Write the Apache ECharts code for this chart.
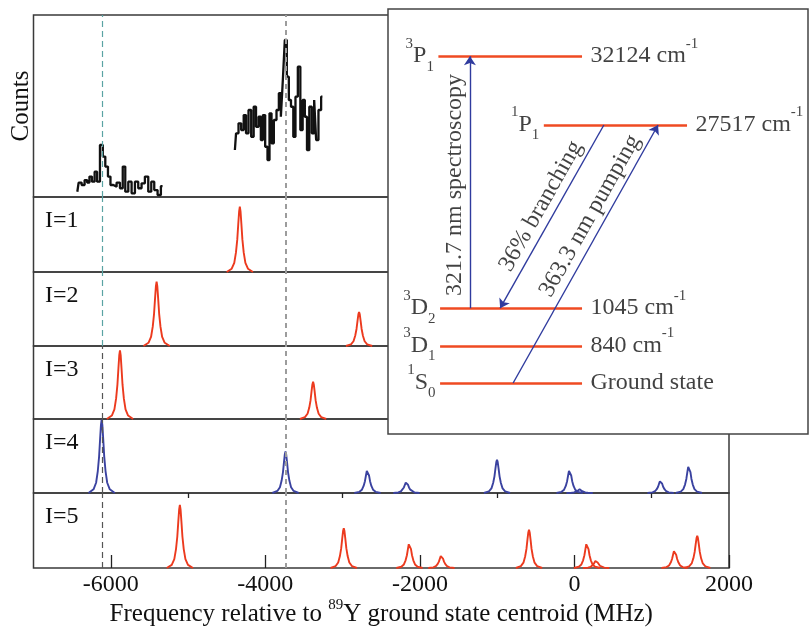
<!DOCTYPE html>
<html><head><meta charset="utf-8">
<script src="https://cdn.jsdelivr.net/npm/echarts@6/dist/echarts.min.js"></script>
<style>html,body{margin:0;padding:0;background:#fff}#c{width:811px;height:630px}</style>
</head><body><div id="c"></div>
<script>
const SERIF = '"Liberation Serif","Times New Roman",serif';

// ---------- data ----------
const xTickValues = [-6000, -4000, -2000, 0, 2000];
const xMinorTickValues = [-5000, -3000, -1000, 1000];
const refLines = [-6110, -3740];

// measured counts (top panel), relative units
const countsLeftX = [-6433,-6399,-6356,-6321,-6291,-6261,-6226,-6192,-6162,-6118,-6088,-6054,-6019,-5989,-5946,-5903,-5860,-5830,-5795,-5752,-5709,-5666,-5623,-5580,-5537,-5493,-5459,-5416,-5373,-5330];
const countsLeftY = [2.9,7.9,6.6,9.3,7.9,11.2,8.4,13.9,8.4,28.6,22.2,16.7,11.2,6.6,5.7,7.9,4.8,16.7,2.9,8.4,2.0,8.4,4.8,7.5,11.2,2.9,8.4,3.8,1.1,6.0];
const countsRightX = [-4394,-4364,-4330,-4295,-4265,-4235,-4200,-4166,-4136,-4105,-4071,-4045,-4019,-3985,-3959,-3933,-3907,-3873,-3838,-3812,-3786,-3761,-3735,-3709,-3683,-3653,-3623,-3597,-3562,-3532,-3502,-3476,-3446,-3416,-3381,-3355,-3330,-3295,-3261];
const countsRightY = [25.8,35.0,40.5,36.8,45.0,35.0,47.8,33.1,49.6,38.6,44.1,31.3,45.0,27.6,20.3,46.0,29.5,42.3,47.8,57.0,44.1,64.3,86.3,66.1,53.3,49.6,33.1,55.1,71.6,36.8,53.3,44.1,25.8,49.6,35.0,53.3,31.3,47.8,55.1];

// simulated spectra for each nuclear spin I (peak centre in MHz, relative height)
const panelLabels = ['I=1', 'I=2', 'I=3', 'I=4', 'I=5'];
const peaksI1 = [-4330];
const heightsI1 = [87];
const peaksI2 = [-5407, -2787];
const heightsI2 = [87, 46];
const peaksI3 = [-5881, -3382];
const heightsI3 = [94, 51];
const peaksI4 = [-6118, -3739, -2678, -2174, -1002, -62, 67, 1115, 1481];
const heightsI4 = [99, 56, 32, 15, 45, 32, 5, 17, 38];
const peaksI5 = [-5106, -2985, -2135, -1721, -588, 162, 280, 1296, 1589];
const heightsI5 = [84, 53, 34, 17, 51, 34, 10, 24, 43];
// line shape read from the plotted peaks (offset in MHz, fraction of peak height)
const peakOffsets = [-170, -105, -72, -50, -33, -20, -9, 0, 9, 20, 33, 50, 72, 105, 170];
const peakProfile = [0, 0.05, 0.14, 0.3, 0.5, 0.74, 0.93, 1, 0.93, 0.74, 0.5, 0.3, 0.14, 0.05, 0];

// inset: energy level diagram (schematic units 0-100)
const levelMult = ['3', '1', '3', '3', '1'];
const levelTerm = ['P', 'P', 'D', 'D', 'S'];
const levelJ = ['1', '1', '2', '1', '0'];
const levelEnergy = [32124, 27517, 1045, 840, 0];
const levelY = [88.9, 72.7, 29.6, 20.7, 12.0];
const levelX0 = [12.0, 37.1, 12.4, 12.4, 12.4];
const levelX1 = [46.2, 71.2, 46.2, 46.2, 46.2];
const arrowText = ['321.7 nm spectroscopy', '36% branching', '363.3 nm pumping'];
const arrowFromLevel = [2, 1, 4];
const arrowToLevel = [0, 2, 1];
const arrowFromX = [19.5, 51.4, 29.8];
const arrowToX = [19.5, 26.7, 64.3];
const arrowLabelX = [15.9, 36.4, 48.1];
const arrowLabelY = [58.6, 53.6, 51.3];
const arrowLabelRotate = [90, 60.5, 60.5];

// ---------- layout ----------
const LEFT = 33.5, WIDTH = 695.5;
const panelTop = [15, 197, 272, 346, 419, 493];
const panelHeight = [182, 75, 74, 73, 74, 75];
const INSET = {x: 388, y: 9, w: 420, h: 425};

const RED = '#ec3a1e', BLUE = '#3a42a0';
const panelPeaks = [peaksI1, peaksI2, peaksI3, peaksI4, peaksI5];
const panelHeights = [heightsI1, heightsI2, heightsI3, heightsI4, heightsI5];
const panelColors = [RED, RED, RED, BLUE, RED];

function peakData(pos, hts) {
  const out = [];
  pos.forEach((p, i) => {
    peakOffsets.forEach((o, k) => out.push([p + o, hts[i] * peakProfile[k]]));
    out.push(['-', '-']);
  });
  return out;
}
function refMarkLine(i) {
  const c1 = i <= 2 ? '#5aa3a3' : '#555';
  return {
    symbol: 'none', silent: true, label: {show: false}, animation: false,
    data: [
      {xAxis: refLines[0], lineStyle: {color: c1, type: [6, 4], width: 1.2}},
      {xAxis: refLines[1], lineStyle: {color: '#9c9c9c', type: [5, 4], width: 2}}
    ]
  };
}

const txt = {fontFamily: SERIF, color: '#111'};
const rich = {
  m: {...txt, fontSize: 24, lineHeight: 40},
  sp: {...txt, fontSize: 15, lineHeight: 15, verticalAlign: 'top'},
  sb: {...txt, fontSize: 15, lineHeight: 15, verticalAlign: 'bottom', padding: [0, 0, 2, 0]}
};

const grids = panelTop.map((t, i) => ({
  left: LEFT, top: t, width: WIDTH, height: panelHeight[i],
  show: true, borderColor: '#3a3a3a', borderWidth: 1.5, backgroundColor: 'rgba(0,0,0,0)'
}));
grids.push({left: INSET.x, top: INSET.y, width: INSET.w, height: INSET.h, show: false});

const xAxes = panelTop.map((t, i) => {
  const a = {gridIndex: i, type: 'value', min: -7000, max: 2000, show: i === 5,
    axisLine: {show: false}, splitLine: {show: false}};
  if (i === 5) {
    a.axisTick = {show: true, inside: true, length: 13, customValues: xTickValues,
      lineStyle: {color: '#222', width: 1.3}};
    a.axisLabel = {show: true, customValues: xTickValues, formatter: v => String(v),
      fontFamily: SERIF, fontSize: 24, color: '#111', margin: 5};
    a.name = '{n|Frequency relative to }{s|89}{n|Y ground state centroid (MHz)}';
    a.nameLocation = 'middle';
    a.nameGap = 29;
    a.nameTextStyle = {...txt, fontSize: 25, rich: {
      n: {...txt, fontSize: 25, lineHeight: 34},
      s: {...txt, fontSize: 15, lineHeight: 14, verticalAlign: 'top'}
    }};
  }
  return a;
});
xAxes.push({gridIndex: 5, type: 'value', min: -7000, max: 2000,
  axisLine: {show: false}, splitLine: {show: false}, axisLabel: {show: false},
  axisTick: {show: true, inside: true, length: 5, customValues: xMinorTickValues,
    lineStyle: {color: '#222', width: 1.3}}});
xAxes.push({gridIndex: 6, type: 'value', min: 0, max: 100, show: false});

const yAxes = panelTop.map((t, i) => ({
  gridIndex: i, type: 'value', min: 0, max: 100, show: i === 0,
  axisLine: {show: false}, axisTick: {show: false}, axisLabel: {show: false}, splitLine: {show: false},
  name: i === 0 ? 'Counts' : '', nameLocation: 'middle', nameGap: 0,
  nameTextStyle: {...txt, fontSize: 25}
}));
yAxes.push({gridIndex: 6, type: 'value', min: 0, max: 100, show: false});

const series = [];
const countsData = countsLeftX.map((x, i) => [x, countsLeftY[i]])
  .concat([['-', '-']])
  .concat(countsRightX.map((x, i) => [x, countsRightY[i]]));
series.push({type: 'line', xAxisIndex: 0, yAxisIndex: 0, data: countsData,
  step: 'middle', symbol: 'none', lineStyle: {color: '#111', width: 2.3}, markLine: refMarkLine(0)});
panelPeaks.forEach((pk, j) => {
  series.push({type: 'line', xAxisIndex: j + 1, yAxisIndex: j + 1,
    data: peakData(pk, panelHeights[j]), symbol: 'none', connectNulls: false,
    lineStyle: {color: panelColors[j], width: 1.9}, markLine: refMarkLine(j + 1)});
});

// inset
const IX = 7, IY = 6;
series.push({type: 'lines', coordinateSystem: 'cartesian2d', xAxisIndex: IX, yAxisIndex: IY, z: 60,
  symbol: 'none', lineStyle: {color: '#ef4a22', width: 2.5, opacity: 1},
  data: levelY.map((y, i) => ({coords: [[levelX0[i], y], [levelX1[i], y]]}))});
series.push({type: 'lines', coordinateSystem: 'cartesian2d', xAxisIndex: IX, yAxisIndex: IY, z: 61,
  symbol: ['none', 'arrow'], symbolSize: 9, lineStyle: {color: '#2f3b9e', width: 1.4, opacity: 1},
  data: arrowText.map((t, i) => ({coords: [[arrowFromX[i], levelY[arrowFromLevel[i]]], [arrowToX[i], levelY[arrowToLevel[i]]]]}))});
series.push({type: 'scatter', xAxisIndex: IX, yAxisIndex: IY, z: 62, symbolSize: 1,
  itemStyle: {color: 'rgba(0,0,0,0)'}, silent: true,
  data: levelY.map((y, i) => ({value: [levelX0[i], y], label: {show: true, position: 'left', distance: 4,
    formatter: '{sp|' + levelMult[i] + '}{m|' + levelTerm[i] + '}{sb|' + levelJ[i] + '}', rich: rich}}))});
series.push({type: 'scatter', xAxisIndex: IX, yAxisIndex: IY, z: 62, symbolSize: 1,
  itemStyle: {color: 'rgba(0,0,0,0)'}, silent: true,
  data: levelY.map((y, i) => ({value: [levelX1[i], y], label: {show: true, position: 'right', distance: 8,
    formatter: levelEnergy[i] === 0 ? '{m|Ground state}' : '{m|' + levelEnergy[i] + ' cm}{sp|-1}', rich: rich}}))});
series.push({type: 'scatter', xAxisIndex: IX, yAxisIndex: IY, z: 62, symbolSize: 1,
  itemStyle: {color: 'rgba(0,0,0,0)'}, silent: true,
  data: arrowText.map((t, i) => ({value: [arrowLabelX[i], arrowLabelY[i]], label: {show: true, position: 'inside',
    rotate: arrowLabelRotate[i], formatter: t, ...txt, fontSize: 24}}))});

const graphic = panelLabels.map((t, i) => ({
  type: 'text', x: 45, y: panelTop[i + 1] + 24, z: 5,
  style: {text: t, font: '24px ' + SERIF, fill: '#111', verticalAlign: 'middle'}
}));
graphic.push({type: 'rect', z: 50, shape: {x: INSET.x, y: INSET.y, width: INSET.w, height: INSET.h},
  style: {fill: '#fff', stroke: '#444', lineWidth: 1.5}});

const chart = echarts.init(document.getElementById('c'), null, {renderer: 'canvas'});
chart.setOption({
  animation: false,
  backgroundColor: '#fff',
  grid: grids, xAxis: xAxes, yAxis: yAxes, series: series, graphic: graphic
});
</script></body></html>
